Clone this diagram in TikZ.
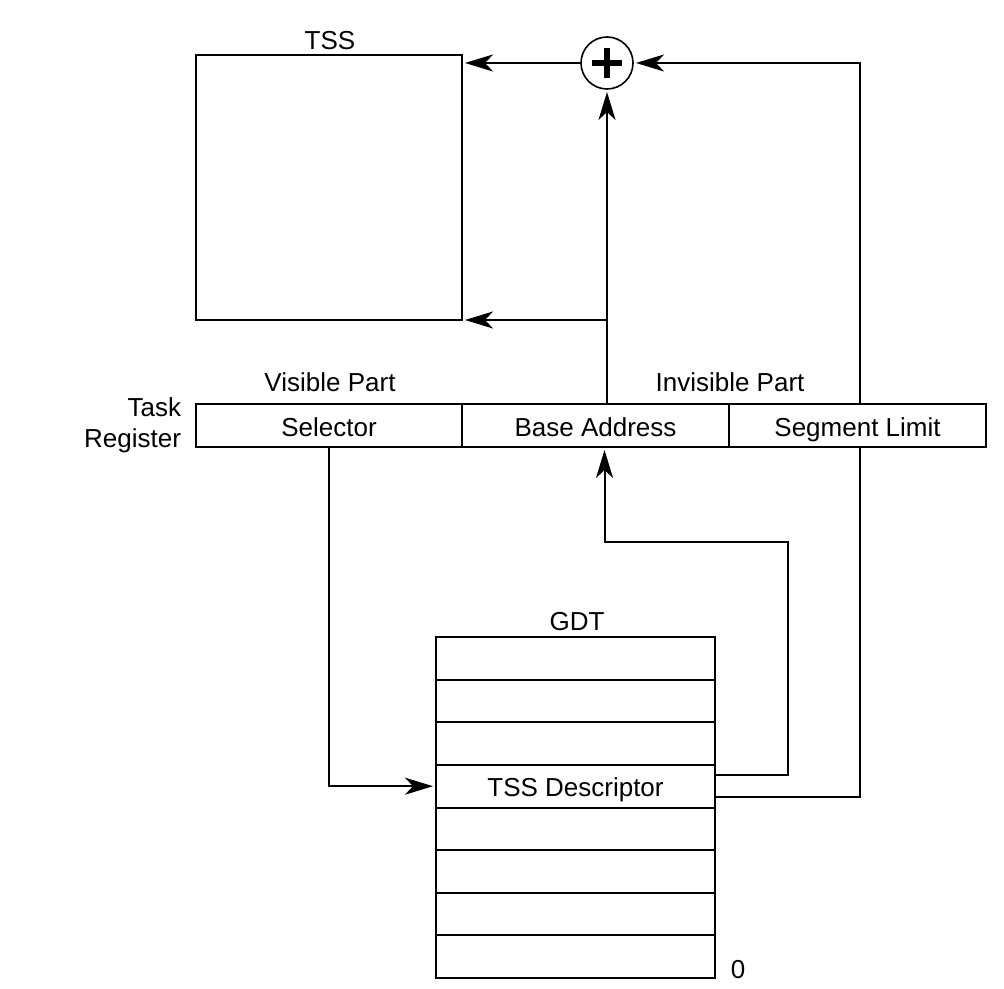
\documentclass[tikz,border=0pt]{standalone}
\usepackage{fontspec}
\setmainfont{Liberation Sans}
\usetikzlibrary{arrows.meta,calc}
\begin{document}
\begin{tikzpicture}[x=0.5pt,y=-0.5pt,
  every node/.style={font=\fontsize{13pt}{15.5pt}\selectfont, inner sep=0pt, outer sep=0pt},
  box/.style={draw, line width=1pt},
  cell/.style={box, minimum height=21.5pt, text height=12.2pt, text depth=1pt},
  row/.style={box, minimum width=139.5pt, minimum height=21.3125pt, text height=11.8pt, text depth=1pt},
  arr/.style={line width=1pt, -{Stealth[length=14pt,width=8.5pt,inset=4pt]}, shorten >=1.5pt},
  wire/.style={line width=1pt}]
\useasboundingbox (0,0) rectangle (1004,988);
% TSS
\node[box, minimum width=133pt, minimum height=132.5pt] (tss) at (329,187.5) {};
\node (tsslbl) at (330,41) {TSS};
% adder
\node[draw, circle, line width=0.8pt, minimum size=26pt] (plus) at (607,63) {};
\draw[line width=2.6pt] ($(plus.center)+(-15,0)$) -- ($(plus.center)+(15,0)$)
  ($(plus.center)+(0,-15)$) -- ($(plus.center)+(0,15)$);
% Task register
\node[cell, minimum width=133pt] (sel) at (329,425.5) {Selector};
\node[cell, minimum width=133.5pt] (base) at (595.5,425.5) {Base Address};
\node[cell, minimum width=128.5pt] (limit) at (857.5,425.5) {Segment Limit};
\node (vis) at (330,382) {Visible Part};
\node (invis) at (730,382) {Invisible Part};
\node[align=right, anchor=east] (tr) at (181,425) {Task\\Register};
% GDT
\foreach \i in {0,...,7} {
  \node[row] (r\i) at (575.5,{637+42.625*(\i+0.5)}) {};
}
\node[row, draw=none] (desc) at (r3) {TSS Descriptor};
\node (gdtlbl) at (577,622) {GDT};
\node (zero) at (738,970) {0};
% connectors
\coordinate (ltop) at ([xshift=1.25pt]limit.north);
\coordinate (lbot) at ([xshift=1.25pt]limit.south);
\draw[arr] (plus.west) -- (plus.west -| tss.east);
\draw[arr] (ltop) |- (plus.east);
\draw[arr] (plus.south |- base.north) -- (plus.south);
\draw[arr] (plus.south |- tss.south) -- (tss.south east);
\draw[arr] (sel.south) |- (r3.west);
\coordinate (c1) at (788,542);
\draw[arr] ([yshift=5.5pt]r3.east) -| (c1) -| ([xshift=4.5pt]base.south);
\draw[wire] ([yshift=-5.5pt]r3.east) -| (lbot);
\end{tikzpicture}
\end{document}
